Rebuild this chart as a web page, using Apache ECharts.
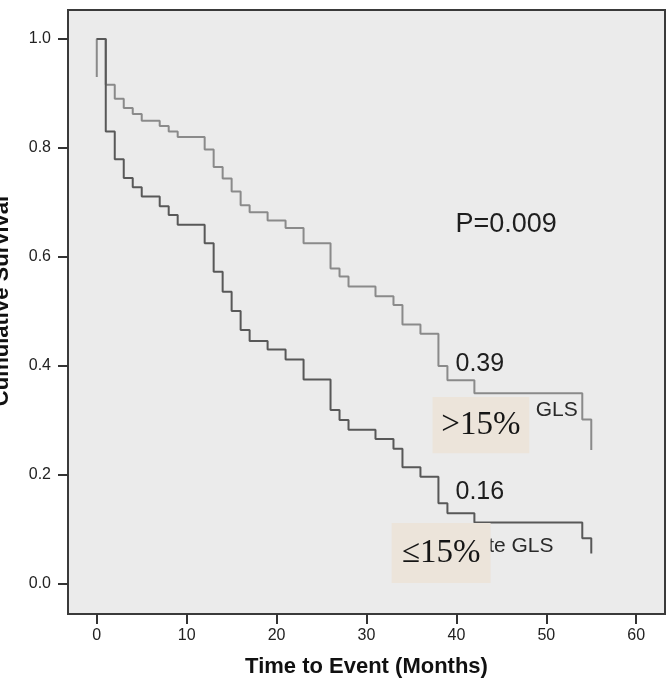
<!DOCTYPE html>
<html>
<head>
<meta charset="utf-8">
<script src="https://cdn.jsdelivr.net/npm/echarts@6/dist/echarts.min.js"></script>
<style>
html,body{margin:0;padding:0;background:#ffffff;}
#chart{width:671px;height:683px;}
</style>
</head>
<body>
<div id="chart"></div>
<script>
// Time (months) of each step
const upperTimes = [0, 0, 1, 2, 3, 4, 5, 7, 8, 9, 12, 13, 14, 15, 16, 17, 19, 21, 23, 26, 27, 28, 31, 33, 34, 36, 38, 39, 42, 54, 55];
const upperSurv  = [0.93, 1.0, 0.916, 0.89, 0.873, 0.862, 0.85, 0.84, 0.83, 0.82, 0.797, 0.765, 0.744, 0.72, 0.695, 0.682, 0.667, 0.653, 0.625, 0.579, 0.564, 0.546, 0.528, 0.512, 0.476, 0.459, 0.40, 0.374, 0.35, 0.302, 0.246];
const lowerTimes = [0, 1, 2, 3, 4, 5, 7, 8, 9, 12, 13, 14, 15, 16, 17, 19, 21, 23, 26, 27, 28, 31, 33, 34, 36, 38, 39, 42, 54, 55];
const lowerSurv  = [1.0, 0.83, 0.779, 0.745, 0.728, 0.711, 0.693, 0.677, 0.659, 0.625, 0.573, 0.536, 0.501, 0.466, 0.446, 0.43, 0.412, 0.375, 0.319, 0.301, 0.283, 0.266, 0.248, 0.214, 0.197, 0.148, 0.13, 0.113, 0.084, 0.056];
const xTicks = [0, 10, 20, 30, 40, 50, 60];
const yTicks = [0, 0.2, 0.4, 0.6, 0.8, 1.0];
const pText = 'P=0.009';
const upperEnd = '0.39';
const lowerEnd = '0.16';
const upperName = 'Normal GLS';
const lowerName = 'Moderate GLS';
const upperBox = '>15%';
const lowerBox = '≤15%';

const chart = echarts.init(document.getElementById('chart'), null, {renderer: 'canvas'});
const pair = (ts, vs) => ts.map((t, i) => [t, vs[i]]);
const font = 'Liberation Sans, Arial, sans-serif';
const serif = 'Liberation Serif, Times New Roman, serif';

chart.setOption({
  animation: false,
  backgroundColor: '#ffffff',
  grid: {left: 68, top: 10, right: 6, bottom: 69, show: true, backgroundColor: '#ebebeb', borderColor: '#3a3a3a', borderWidth: 2},
  xAxis: {
    type: 'value', min: -3.2, max: 63.2, position: 'bottom',
    splitLine: {show: false},
    axisLine: {show: false, onZero: false},
    axisTick: {show: true, length: 10, customValues: xTicks, lineStyle: {color: '#333', width: 2}},
    axisLabel: {customValues: xTicks, color: '#222', fontSize: 16, fontFamily: font, margin: 14},
    name: 'Time to Event (Months)', nameLocation: 'middle', nameGap: 42,
    nameTextStyle: {fontSize: 22, fontWeight: 'bold', color: '#111', fontFamily: font}
  },
  yAxis: {
    type: 'value', min: -0.055, max: 1.053, position: 'left',
    splitLine: {show: false},
    axisLine: {show: false, onZero: false},
    axisTick: {show: true, length: 10, customValues: yTicks, lineStyle: {color: '#333', width: 2}},
    axisLabel: {customValues: yTicks, color: '#222', fontSize: 16, fontFamily: font, margin: 17, formatter: v => v.toFixed(1)}
  },
  series: [
    {type: 'line', step: 'end', data: pair(upperTimes, upperSurv), showSymbol: false, lineStyle: {color: '#8a8a8a', width: 2}, z: 2},
    {type: 'line', step: 'end', data: pair(lowerTimes, lowerSurv), showSymbol: false, lineStyle: {color: '#585858', width: 2}, z: 3}
  ]
});

const px = (x, y) => chart.convertToPixel({gridIndex: 0}, [x, y]);
const pP = px(39.9, 0.659), p39 = px(39.9, 0.404), p16 = px(39.9, 0.169);
const pUN = px(53.5, 0.319), pLN = px(50.8, 0.070);
const b1a = px(37.35, 0.343), b1b = px(48.1, 0.240);
const b2a = px(32.8, 0.112), b2b = px(43.8, 0.002);

chart.setOption({
  graphic: [
    {type: 'text', rotation: Math.PI / 2, x: 2, y: 301, style: {text: 'Cumulative Survival', font: 'bold 22px ' + font, fill: '#111', align: 'center', verticalAlign: 'middle'}},
    {type: 'text', x: pP[0], y: pP[1], style: {text: pText, font: '27px ' + font, fill: '#1e1e1e', align: 'left', verticalAlign: 'middle'}},
    {type: 'text', x: p39[0], y: p39[1], style: {text: upperEnd, font: '25px ' + font, fill: '#1e1e1e', align: 'left', verticalAlign: 'middle'}},
    {type: 'text', x: p16[0], y: p16[1], style: {text: lowerEnd, font: '25px ' + font, fill: '#1e1e1e', align: 'left', verticalAlign: 'middle'}},
    {type: 'text', x: pUN[0], y: pUN[1], style: {text: upperName, font: '21px ' + font, fill: '#2a2a2a', align: 'right', verticalAlign: 'middle'}},
    {type: 'text', x: pLN[0], y: pLN[1], style: {text: lowerName, font: '21px ' + font, fill: '#2a2a2a', align: 'right', verticalAlign: 'middle'}},
    {type: 'rect', z: 100, shape: {x: b1a[0], y: b1a[1], width: b1b[0] - b1a[0], height: b1b[1] - b1a[1]}, style: {fill: '#ece4da'}},
    {type: 'text', z: 101, x: (b1a[0] + b1b[0]) / 2, y: (b1a[1] + b1b[1]) / 2, style: {text: upperBox, font: '33px ' + serif, fill: '#151515', align: 'center', verticalAlign: 'middle'}},
    {type: 'rect', z: 100, shape: {x: b2a[0], y: b2a[1], width: b2b[0] - b2a[0], height: b2b[1] - b2a[1]}, style: {fill: '#ece4da'}},
    {type: 'text', z: 101, x: (b2a[0] + b2b[0]) / 2, y: (b2a[1] + b2b[1]) / 2, style: {text: lowerBox, font: '33px ' + serif, fill: '#151515', align: 'center', verticalAlign: 'middle'}}
  ]
});
</script>
</body>
</html>
